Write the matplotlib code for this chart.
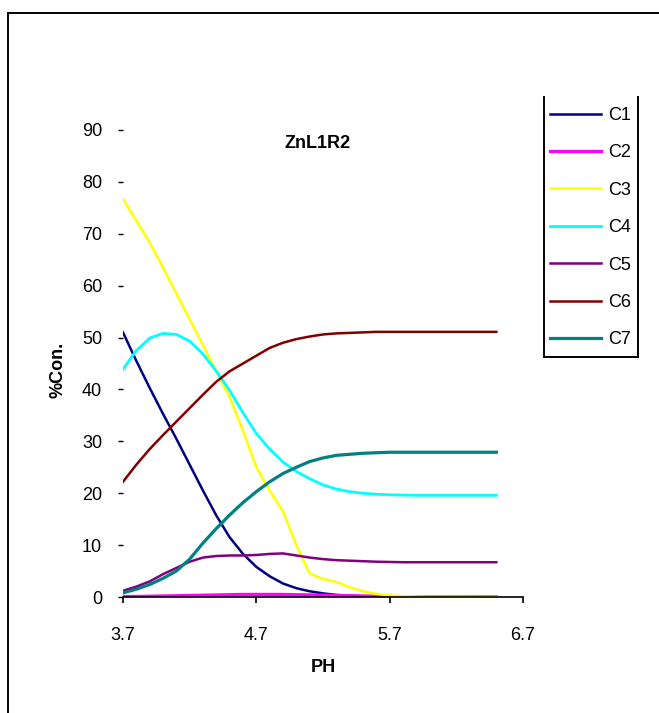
import matplotlib
matplotlib.use("Agg")
import matplotlib.pyplot as plt
from matplotlib.lines import Line2D

plt.rcParams['font.family'] = ['Liberation Sans', 'DejaVu Sans']

# pH values (x axis)
ph = [3.7, 3.8, 3.9, 4.0, 4.1, 4.2, 4.3, 4.4, 4.5, 4.6, 4.7, 4.8, 4.9, 5.0, 5.1,
      5.2, 5.3, 5.4, 5.5, 5.6, 5.7, 5.8, 5.9, 6.0, 6.1, 6.2, 6.3, 6.4, 6.5]

# % concentration of each species
c1 = [51, 45.5, 40.3, 35.3, 30.5, 25.5, 20.5, 15.7, 11.5, 8.3, 5.8, 4.0, 2.6, 1.7, 1.1,
      0.7, 0.4, 0.25, 0.15, 0.1, 0.05, 0.03, 0.02, 0.01, 0, 0, 0, 0, 0]
c2 = [0.1, 0.1, 0.15, 0.2, 0.25, 0.3, 0.35, 0.4, 0.45, 0.5, 0.5, 0.5, 0.5, 0.45, 0.4,
      0.35, 0.3, 0.25, 0.2, 0.15, 0.1, 0.08, 0.06, 0.05, 0.04, 0.03, 0.02, 0.01, 0.01]
c3 = [76.7, 72.5, 68.3, 63.5, 58.5, 53.5, 48.5, 43.5, 38.5, 32, 25, 20.5, 16.5, 10, 4.5,
      3.5, 2.9, 1.9, 1.1, 0.6, 0.3, 0.15, 0.1, 0.05, 0.03, 0.02, 0.01, 0, 0]
c4 = [43.9, 47.5, 49.9, 50.8, 50.6, 49.3, 46.8, 43.5, 39.8, 35.5, 31.5, 28.5, 26, 24.2, 22.8,
      21.6, 20.8, 20.3, 20.0, 19.8, 19.7, 19.65, 19.6, 19.6, 19.6, 19.6, 19.6, 19.6, 19.6]
c5 = [1.2, 2.0, 3.0, 4.4, 5.6, 6.8, 7.6, 7.9, 8.0, 8.0, 8.1, 8.3, 8.4, 8.0, 7.6,
      7.3, 7.1, 7.0, 6.9, 6.8, 6.75, 6.7, 6.7, 6.7, 6.7, 6.7, 6.7, 6.7, 6.7]
c6 = [22.2, 25.5, 28.5, 31.2, 33.8, 36.4, 39, 41.5, 43.5, 45, 46.5, 48, 49, 49.7, 50.2,
      50.6, 50.8, 50.9, 51, 51.1, 51.1, 51.1, 51.1, 51.1, 51.1, 51.1, 51.1, 51.1, 51.1]
c7 = [0.8, 1.5, 2.4, 3.6, 5.0, 7.3, 10.4, 13.2, 15.8, 18.2, 20.3, 22.2, 23.8, 25.0, 26.1,
      26.8, 27.3, 27.5, 27.7, 27.8, 27.9, 27.9, 27.9, 27.9, 27.9, 27.9, 27.9, 27.9, 27.9]

labels = ['C1', 'C2', 'C3', 'C4', 'C5', 'C6', 'C7']
colors = ['#000080', '#FF00FF', '#FFFF00', '#00FFFF', '#800080', '#800000', '#008080']
widths = [1.8, 2.3, 1.8, 2.0, 1.8, 1.8, 2.3]
xticks = [3.7, 4.7, 5.7, 6.7]
yticks = [0, 10, 20, 30, 40, 50, 60, 70, 80, 90]

W, H = 659, 713
fig = plt.figure(figsize=(W / 100, H / 100), dpi=100)
ax = fig.add_axes([123 / W, 1 - 597 / H, 400 / W, 467 / H])

for ys, lab, col, lw in zip([c1, c2, c3, c4, c5, c6, c7], labels, colors, widths):
    ax.plot(ph, ys, color=col, lw=lw, label=lab)

ax.set_xlim(3.7, 6.7)
ax.set_ylim(0, 90)
ax.set_xticks(xticks)
ax.set_xticklabels([str(v) for v in xticks])
ax.set_yticks(yticks)

for s in ['top', 'right', 'left']:
    ax.spines[s].set_visible(False)
ax.spines['bottom'].set_linewidth(1.2)
ax.tick_params(axis='x', direction='out', length=4.5, width=1.2, pad=17, labelsize=13)
ax.tick_params(axis='y', direction='out', length=3.6, width=1.0, pad=11.5, labelsize=13)

ax.set_xlabel('PH', fontsize=13, fontweight='bold')
ax.xaxis.set_label_coords(0.5, (597 - 659) / 467)
ax.set_ylabel('%Con.', fontsize=13, fontweight='bold')
ax.yaxis.set_label_coords((67 - 123) / 400, (597 - 370) / 467)

ax.text((318 - 123) / 400, (597 - 143) / 467, 'ZnL1R2', transform=ax.transAxes,
        ha='center', va='center', fontsize=13, fontweight='bold')

# legend (no frame; box drawn below with open top like the original)
ax.legend(loc='upper left', bbox_to_anchor=(550 / W, 1 - 107 / H),
          bbox_transform=fig.transFigure, frameon=False, borderpad=0,
          borderaxespad=0, fontsize=13, handlelength=2.85, handletextpad=0.35,
          labelspacing=1.13)

lx0, lx1, ly0, ly1 = 544 / W, 638 / W, 1 - 97 / H, 1 - 357 / H
for xs, ys in [([lx0, lx0], [ly0, ly1]), ([lx1, lx1], [ly0, ly1]), ([lx0, lx1], [ly1, ly1])]:
    fig.add_artist(Line2D(xs, ys, color='black', lw=1.4, transform=fig.transFigure))

# outer chart border (only left and top are visible in the crop)
fig.add_artist(Line2D([8 / W, 8 / W], [0, 1 - 13 / H], color='black', lw=1.4,
                      transform=fig.transFigure))
fig.add_artist(Line2D([8 / W, 1], [1 - 13 / H, 1 - 13 / H], color='black', lw=1.4,
                      transform=fig.transFigure))

fig.savefig('out.png', dpi=100)
